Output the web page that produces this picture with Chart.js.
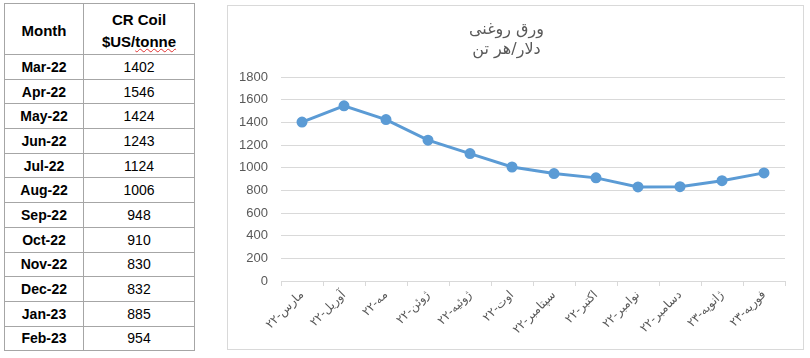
<!DOCTYPE html>
<html>
<head>
<meta charset="utf-8">
<script src="https://cdn.jsdelivr.net/npm/chart.js@4"></script>
<style>
  body { margin: 0; background: #fff; width: 810px; height: 358px; position: relative; overflow: hidden; }
  table.prices {
    position: absolute; left: 4px; top: 3px; width: 191px;
    border-collapse: collapse; font-family: "Liberation Sans", Arial, sans-serif; color: #000;
  }
  table.prices td { border: 1px solid #a6a6a6; text-align: center; padding: 0; font-size: 14px; }
  table.prices tr.head td { height: 46px; font-weight: bold; font-size: 15px; line-height: 22px; padding-top: 4px; }
  table.prices tr.row td { height: 23.7px; }
  table.prices td.m { font-weight: bold; width: 78px; }
  .spell { text-decoration: underline wavy #e03030; text-decoration-thickness: 1px; }
  #box { position: absolute; left: 227px; top: 5px; width: 575px; height: 343px; border: 1px solid #d9d9d9; }
</style>
</head>
<body>
<table class="prices" id="tbl"></table>
<div id="box"><canvas id="chart1" width="575" height="343"></canvas></div>
<script>
const months = ['Mar-22','Apr-22','May-22','Jun-22','Jul-22','Aug-22','Sep-22','Oct-22','Nov-22','Dec-22','Jan-23','Feb-23'];
const labelsFa = ['مارس-۲۲','آوریل-۲۲','مه-۲۲','ژوئن-۲۲','ژوئیه-۲۲','اوت-۲۲','سپتامبر-۲۲','اکتبر-۲۲','نوامبر-۲۲','دسامبر-۲۲','ژانویه-۲۳','فوریه-۲۳'];
const crCoil = [1402, 1546, 1424, 1243, 1124, 1006, 948, 910, 830, 832, 885, 954];
const chartTitle = ['ورق روغنی', 'دلار/هر تن'];

// table on the left
const tbl = document.getElementById('tbl');
let html = '<tr class="head"><td class="m">Month</td><td>CR Coil<br>$US/<span class="spell">tonne</span></td></tr>';
months.forEach((m, i) => {
    html += '<tr class="row"><td class="m">' + m + '</td><td>' + crCoil[i] + '</td></tr>';
});
tbl.innerHTML = html;

const LINE = '#5b9bd5';
const GRID = '#d9d9d9';
const TXT = '#595959';

new Chart(document.getElementById('chart1'), {
    type: 'line',
    data: {
        labels: labelsFa,
        datasets: [{
            data: crCoil,
            borderColor: LINE,
            backgroundColor: LINE,
            borderWidth: 3,
            pointRadius: 4,
            pointHoverRadius: 4,
            tension: 0
        }]
    },
    options: {
        responsive: false,
        animation: false,
        layout: { padding: { left: 0, right: 18, top: 0, bottom: 0 } },
        plugins: {
            legend: { display: false },
            tooltip: { enabled: false },
            title: {
                display: true,
                text: chartTitle,
                color: TXT,
                font: { family: 'DejaVu Sans', size: 16, weight: 'normal', lineHeight: 1.25 },
                padding: { top: 14, bottom: 17 }
            }
        },
        scales: {
            x: {
                offset: true,
                grid: { display: true, drawOnChartArea: false, drawTicks: true, tickLength: 5, color: GRID, offset: true },
                border: { color: GRID },
                ticks: {
                    color: TXT, autoSkip: false, minRotation: 45, maxRotation: 45, padding: 2,
                    font: { family: 'DejaVu Sans', size: 12 }
                },
                afterFit: (s) => { s.height = 68; }
            },
            y: {
                min: 0, max: 1800,
                grid: { color: GRID, drawTicks: false },
                border: { display: false },
                ticks: {
                    stepSize: 200, color: TXT, padding: 13,
                    font: { family: 'Liberation Sans', size: 13 },
                    callback: (v) => String(v)
                },
                afterFit: (s) => { s.width = 53; }
            }
        }
    }
});
</script>
</body>
</html>
